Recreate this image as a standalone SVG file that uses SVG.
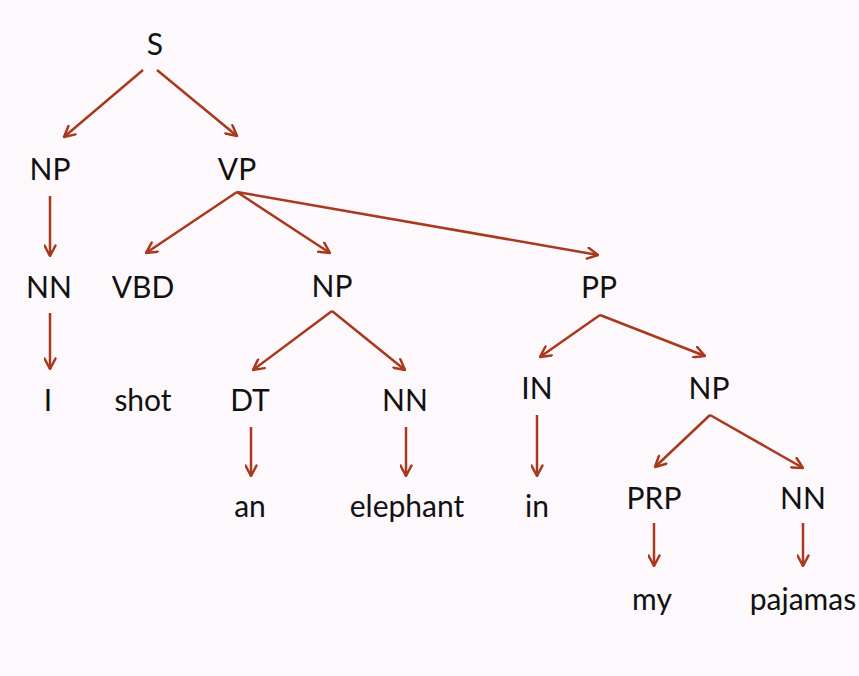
<svg xmlns="http://www.w3.org/2000/svg" width="859" height="676" viewBox="0 0 859 676">
  <style>
    text { font-family: "Lato", "Open Sans", "Liberation Sans", sans-serif; font-size: 30px; fill: #111111; text-anchor: middle; }
    .edge { stroke: #a8391d; stroke-width: 2.5; fill: none; marker-end: url(#head); }
  </style>
  <defs>
    <marker id="head" viewBox="0 0 13 13" refX="12" refY="6.5" markerWidth="13" markerHeight="13" markerUnits="userSpaceOnUse" orient="auto">
      <path d="M1.5,1 L12,6.5 L1.5,12" fill="none" stroke="#a8391d" stroke-width="2.5" stroke-linecap="round" stroke-linejoin="round"/>
    </marker>
  </defs>
  <rect width="859" height="676" fill="#fcf8fc"/>

  <g id="edges">
    <line class="edge" x1="143" y1="70" x2="64" y2="137"/>
    <line class="edge" x1="157" y1="70" x2="237" y2="136"/>
    <line class="edge" x1="50" y1="196" x2="50" y2="256"/>
    <line class="edge" x1="50" y1="313" x2="50" y2="369"/>
    <line class="edge" x1="237" y1="192" x2="146" y2="253"/>
    <line class="edge" x1="237" y1="192" x2="330" y2="253"/>
    <line class="edge" x1="237" y1="192" x2="598" y2="255"/>
    <line class="edge" x1="332" y1="311" x2="253" y2="370"/>
    <line class="edge" x1="332" y1="311" x2="405" y2="370"/>
    <line class="edge" x1="251" y1="427" x2="251" y2="476"/>
    <line class="edge" x1="406" y1="427" x2="406" y2="476"/>
    <line class="edge" x1="600" y1="315" x2="540" y2="357"/>
    <line class="edge" x1="600" y1="315" x2="705" y2="356"/>
    <line class="edge" x1="537" y1="415" x2="537" y2="476"/>
    <line class="edge" x1="710" y1="415" x2="655" y2="467"/>
    <line class="edge" x1="710" y1="415" x2="803" y2="468"/>
    <line class="edge" x1="654" y1="523" x2="654" y2="566"/>
    <line class="edge" x1="803" y1="523" x2="803" y2="566"/>
  </g>

  <g id="n-S"><text x="155" y="55">S</text></g>
  <g id="n-NP1"><text x="50" y="180">NP</text></g>
  <g id="n-VP"><text x="237" y="180">VP</text></g>
  <g id="n-NN1"><text x="49" y="298">NN</text></g>
  <g id="n-VBD"><text x="143" y="298">VBD</text></g>
  <g id="n-NP2"><text x="332" y="297">NP</text></g>
  <g id="n-PP"><text x="599" y="298">PP</text></g>
  <g id="n-I"><text x="48" y="411">I</text></g>
  <g id="n-shot"><text x="143" y="411">shot</text></g>
  <g id="n-DT"><text x="250" y="411">DT</text></g>
  <g id="n-NN2"><text x="405" y="411">NN</text></g>
  <g id="n-IN"><text x="537" y="399">IN</text></g>
  <g id="n-NP3"><text x="709" y="399">NP</text></g>
  <g id="n-an"><text x="250" y="517">an</text></g>
  <g id="n-elephant"><text x="407" y="517">elephant</text></g>
  <g id="n-in"><text x="537" y="517">in</text></g>
  <g id="n-PRP"><text x="654" y="509">PRP</text></g>
  <g id="n-NN3"><text x="803" y="509">NN</text></g>
  <g id="n-my"><text x="652" y="610">my</text></g>
  <g id="n-pajamas"><text x="803" y="610">pajamas</text></g>
</svg>
